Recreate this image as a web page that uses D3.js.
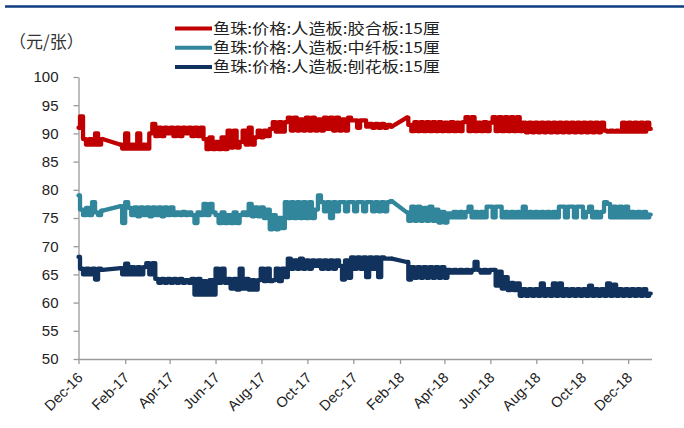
<!DOCTYPE html>
<html>
<head>
<meta charset="utf-8">
<script src="https://cdn.jsdelivr.net/npm/d3@7"></script>
<style>
  body { margin: 0; background: #fff; }
  svg { display: block; }
</style>
</head>
<body>
<div id="chart"></div>
<script>
// one reading every 4 days from Dec 1 2016, null = no data
var startDate = new Date(2016, 11, 1);
var stepDays = 4;

var plywood = [
  91, 93, 89, 88, 89, 88, 90, 88, 89, null,
  null, null, null, null, 88, 87.3, 90, 87.3, 88, 87.3,
  90, 87.3, 88, 87.3, 90, 91.7, 89.5, 91, 89.5, 91,
  90, 91, 89.5, 91, 89.5, 91, 90, 91, 89.5, 91,
  89.5, 91, 89, 87.2, 89.3, 87.2, 88.5, 87.2, 89.3, 87.2,
  90.5, 87.5, 90.5, 87.5, 88.5, 90.5, 88, 91, 88, 89.3,
  90.5, 89.3, 90.5, 89.5, 90.8, 92, 90.3, 92, 90.3, 92,
  92.8, 90.5, 92.8, 90.5, 92.5, 90.5, 92.8, 90.5, 92.8, 90.5,
  92.5, 90.5, 92.8, 90.8, 92.8, 90.5, 92.8, 90.5, 92.5, 90.5,
  92.8, 92.3, 92.3, 91, 92.3, 92.3, 91.2, 91.7, 91, 91.7,
  91, 91.7, 91, 91.5, 91.2, null, null, null, null, 92.8,
  91.5, 90.4, 92, 90.4, 92, 90.4, 92, 90.4, 92, 90.4,
  92, 90.4, 91.9, 90.4, 92, 90.4, 91.9, 90.4, 92, 92.9,
  90.4, 92.9, 90.4, 91.9, 90.4, 92, 90.4, 91.9, 92.9, 90.4,
  92.9, 90.4, 92.9, 90.4, 92.9, 90.4, 92.9, 90.4, 91.9, 90.2,
  91.9, 90.2, 91.9, 90.2, 91.9, 90.2, 91.9, 90.2, 91.9, 90.2,
  91.9, 90.2, 91.9, 90.2, 91.9, 90.2, 91.9, 90.2, 91.9, 90.2,
  91.9, 90.2, 91.9, 90.2, 91.9, 90.5, 90.3, 90.5, 90.3, 90.5,
  90.3, 91.9, 90.3, 91.9, 90.3, 91.9, 90.3, 91.9, 90.3, 91.9, 90.8
];

var mdf = [
  79, 76.5, 75.5, 76.8, 75.5, 77.8, 76, 75.5, 76.3, null,
  null, null, null, null, 77.1, 74.1, 77.8, 76.8, 75.5, 76.9,
  75.3, 76.9, 75.5, 76.9, 75.3, 76.9, 75.5, 76.9, 75.3, 76.9,
  75.5, 76.9, 75.5, 76, 75.5, 76.1, 75.5, 76, 75.5, 74.1,
  76, 75.5, 77.5, 75.5, 77.5, 76, 75.5, 74.1, 76, 74.1,
  75.5, 74.1, 76, 74.1, 75.5, 76, 75.5, 77.5, 75.3, 76.9,
  75.3, 76.9, 75, 76.5, 73, 75.5, 73, 75, 73.2, 77.8,
  75, 77.8, 75, 77.8, 75, 77.8, 75, 77.8, 75, 76.5,
  79, 77.8, 76.2, 77.8, 75, 77.8, 76.2, 77.8, 77.8, 76.2,
  77.8, 77.8, 76.2, 77.8, 77.8, 76.2, 77.8, 77.8, 76.2, 77.8,
  76.2, 77.8, 76.2, 77.8, 78, null, null, null, null, 76,
  74.5, 77, 74.5, 77, 74.5, 76.8, 74.5, 77, 74.5, 76.5,
  74.2, 76.1, 74.2, 75.8, 75.1, 76.1, 75.1, 76.1, 75.1, 76.1,
  77, 75.1, 76.1, 75.1, 76.1, 75.1, 77, 77, 75.1, 77,
  77, 75.1, 76.1, 75.1, 76.1, 75.1, 76.1, 75.1, 77, 75.1,
  76.1, 75.1, 76.1, 75.1, 76.1, 75.1, 76.1, 75.1, 76.1, 75.1,
  77, 77, 75.1, 77, 77, 75.1, 77, 77, 75.1, 76.1,
  77, 75.1, 76.1, 75.1, 76.1, 77.8, 77.5, 75.1, 77, 75.1,
  77, 75.1, 77, 75.1, 76.1, 75.1, 76.1, 75.1, 76.1, 75.1, 75.6
];

var particle = [
  68.1, 66, 65, 66, 65, 66, 64.1, 66, 65.8, null,
  null, null, null, null, 66.1, 65, 66.9, 65, 66.3, 65,
  66.3, 65, 66.3, 67, 65, 67, 64.2, 63.5, 64.2, 63.5,
  64.2, 63.5, 64.2, 63.5, 64.2, 63.5, 64, 63.5, 64.2, 61.4,
  64.2, 61.4, 63.8, 61.4, 64, 61.4, 66, 63.5, 66, 63.5,
  64.2, 62.5, 64.2, 62.3, 66, 62.5, 64.2, 62.3, 64, 62.3,
  64, 66, 63.8, 66, 63.8, 64, 66, 63.8, 66, 64.5,
  67.8, 66, 67.5, 66, 67.8, 66, 67.5, 66, 67.5, 66.5,
  67.5, 66, 67.5, 66, 67.5, 66, 67.5, 66.5, 64.1, 67.5,
  64.4, 68, 66, 68, 66, 68, 64.5, 68, 66, 68,
  64.5, 68, 67.8, 67.8, 67.8, null, null, null, null, 67.2,
  64.1, 66.3, 64.4, 66.3, 64.4, 66.3, 64.4, 66.3, 64.4, 66.3,
  64.4, 66.3, 64.4, 65.8, 65.3, 65.8, 65.3, 65.8, 65.3, 65.8,
  65.3, 65.8, 67.2, 65.8, 65.3, 65.8, 65.3, 65.8, 65.8, 63,
  65.5, 62.5, 64.5, 62.2, 63.5, 62.2, 63.4, 61.2, 62.4, 61.2,
  62.4, 61.2, 62.4, 61.2, 63.4, 61.2, 62.4, 61.2, 63.4, 61.2,
  63.4, 61.2, 62.4, 61.2, 62.4, 61.2, 62.4, 61.2, 62.4, 61.2,
  63, 61.2, 62.4, 61.2, 62.4, 61.2, 63.4, 61.2, 63.2, 61.2,
  62.4, 61.2, 62.4, 61.2, 62.4, 61.2, 62.4, 61.2, 62.4, 61.2, 61.6
];

var seriesNames = [
  "鱼珠:价格:人造板:胶合板:15厘",
  "鱼珠:价格:人造板:中纤板:15厘",
  "鱼珠:价格:人造板:刨花板:15厘"
];
var yTicks = [50, 55, 60, 65, 70, 75, 80, 85, 90, 95, 100];
var xTickLabels = ["Dec-16", "Feb-17", "Apr-17", "Jun-17", "Aug-17", "Oct-17", "Dec-17",
                   "Feb-18", "Apr-18", "Jun-18", "Aug-18", "Oct-18", "Dec-18"];
var unitLabel = "（元/张）";

var colors = ["#c00000", "#31869b", "#10325c"];
var width = 684, height = 428;

var svg = d3.select("#chart")
  .append("svg")
    .attr("width", width)
    .attr("height", height);

// top rule
svg.append("line")
  .attr("x1", 5).attr("x2", 684)
  .attr("y1", 6.5).attr("y2", 6.5)
  .attr("stroke", "#0e3d82")
  .attr("stroke-width", 2.5);

var parseTick = d3.timeParse("%b-%y");
var x = d3.scaleTime()
  .domain([new Date(2016, 11, 1), new Date(2019, 0, 1)])
  .range([78.5, 651.5]);
var y = d3.scaleLinear()
  .domain([50, 100])
  .range([359, 77]);

// y axis
var yAxis = svg.append("g")
  .attr("transform", "translate(78.5,0)")
  .call(d3.axisLeft(y).tickValues(yTicks).tickSize(5).tickSizeOuter(0).tickPadding(15));
yAxis.selectAll("line, path").attr("stroke", "#9a9a9a").attr("stroke-width", 1.3);
yAxis.selectAll("text")
  .attr("font-family", "'Liberation Sans', Arial, sans-serif")
  .attr("font-size", 15)
  .attr("fill", "#222");

// x axis
var xAxis = svg.append("g")
  .attr("transform", "translate(0,359)")
  .call(d3.axisBottom(x)
    .tickValues(xTickLabels.map(parseTick))
    .tickFormat(d3.timeFormat("%b-%y"))
    .tickSize(5).tickSizeOuter(0));
xAxis.selectAll("line, path").attr("stroke", "#9a9a9a").attr("stroke-width", 1.3);
xAxis.selectAll("text")
  .attr("font-family", "'Liberation Sans', Arial, sans-serif")
  .attr("font-size", 14.5)
  .attr("fill", "#222")
  .attr("text-anchor", "end")
  .attr("x", 0).attr("y", 0)
  .attr("dx", 0)
  .attr("dy", "0.35em")
  .attr("transform", "translate(1,16) rotate(-45)");

// lines: step within runs, straight across missing stretches
var allSeries = [plywood, mdf, particle];
var stepLine = d3.line()
  .x(function(d) { return x(d.date); })
  .y(function(d) { return y(d.value); })
  .curve(d3.curveStep);
var straightLine = d3.line()
  .x(function(d) { return x(d.date); })
  .y(function(d) { return y(d.value); });

allSeries.forEach(function(values, k) {
  var runs = [], cur = [];
  values.forEach(function(v, i) {
    if (v === null) {
      if (cur.length) { runs.push(cur); cur = []; }
    } else {
      cur.push({ date: d3.timeDay.offset(startDate, i * stepDays), value: v });
    }
  });
  if (cur.length) runs.push(cur);

  var g = svg.append("g")
    .attr("fill", "none")
    .attr("stroke", colors[k])
    .attr("stroke-width", 4.3)
    .attr("stroke-linejoin", "round")
    .attr("stroke-linecap", "round");
  runs.forEach(function(run, r) {
    g.append("path").datum(run).attr("d", stepLine);
    if (r > 0) {
      var prev = runs[r - 1];
      g.append("path").datum([prev[prev.length - 1], run[0]]).attr("d", straightLine);
    }
  });
});

// unit
svg.append("text")
  .attr("x", 9).attr("y", 48)
  .attr("font-family", "'Noto Sans CJK SC', sans-serif")
  .attr("font-size", 17)
  .attr("fill", "#333")
  .text(unitLabel);

// legend
var legend = svg.append("g");
seriesNames.forEach(function(name, k) {
  var ly = 28.5 + k * 19.2;
  legend.append("line")
    .attr("x1", 175).attr("x2", 212)
    .attr("y1", ly).attr("y2", ly)
    .attr("stroke", colors[k])
    .attr("stroke-width", 4);
  legend.append("text")
    .attr("x", 213).attr("y", ly + 5)
    .attr("font-family", "'Noto Sans CJK SC', sans-serif")
    .attr("font-size", 15)
    .attr("fill", "#222")
    .attr("textLength", 227)
    .attr("lengthAdjust", "spacingAndGlyphs")
    .text(name);
});
</script>
</body>
</html>
